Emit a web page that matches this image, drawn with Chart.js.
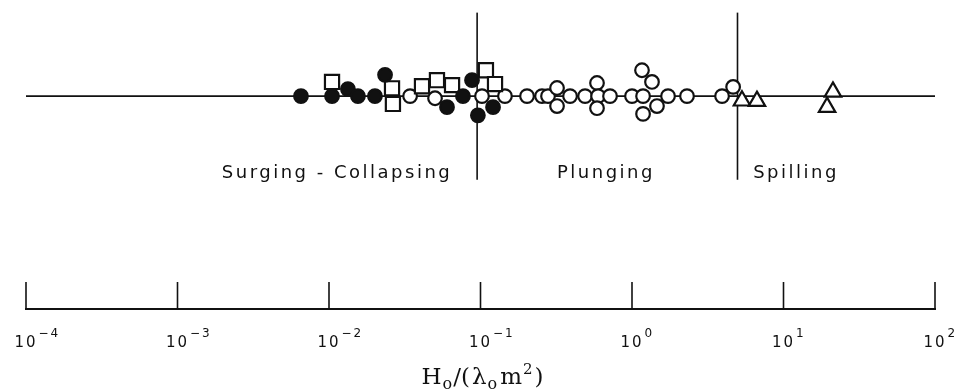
<!DOCTYPE html>
<html>
<head>
<meta charset="utf-8">
<script src="https://cdn.jsdelivr.net/npm/chart.js@4/dist/chart.umd.min.js"></script>
<style>
  html, body { margin: 0; padding: 0; background: #fff; }
  canvas { display: block; }
</style>
</head>
<body>
<canvas id="chart" width="962" height="391"></canvas>
<script>
// Breaker parameter H0/(L0 m^2) for each test, by symbol type.
// "lift" is only a vertical nudge that keeps coincident symbols apart.
const filledCircleX    = [0.00653, 0.01047, 0.01333, 0.01552, 0.0201, 0.02344, 0.0601, 0.0766, 0.0879, 0.0961, 0.121];
const filledCircleLift = [0, 0, 1.0, 0, 0, 3.0, -1.55, 0, 2.25, -2.7, -1.55];

const squareX    = [0.01047, 0.02606, 0.02642, 0.0411, 0.0516, 0.0649, 0.1086, 0.1247];
const squareLift = [2.0, 1.1, -1.1, 1.4, 2.25, 1.55, 3.65, 1.7];

const openCircleX    = [0.0343, 0.0501, 0.1023, 0.145, 0.2028, 0.2547, 0.279, 0.320, 0.320, 0.390, 0.490,
                        0.5875, 0.597, 0.5875, 0.716, 1.0, 1.164, 1.355, 1.183, 1.462, 1.183, 1.729, 2.307, 3.93, 4.65];
const openCircleLift = [0, -0.3, 0, 0, 0, 0, 0, 1.15, -1.4, 0, 0,
                        1.85, 0, -1.7, 0, 0, 3.65, 2.0, 0, -1.4, -2.5, 0, 0, 0, 1.3];

const triangleX    = [5.32, 6.68, 21.2, 19.4];
const triangleLift = [-0.65, -0.7, 0.6, -1.55];

// Breaker-type boundaries and region names
const boundaries  = [0.095, 4.97];
const regionNames = ['Surging - Collapsing', 'Plunging', 'Spilling'];

// Axis decades and their exponent labels
const tickValues    = [1e-4, 1e-3, 1e-2, 1e-1, 1e0, 1e1, 1e2];
const tickExponents = ['\u22124', '\u22123', '\u22122', '\u22121', '0', '1', '2'];

const pts = (xs, lifts) => xs.map((x, i) => ({ x, y: lifts[i] }));

const INK = '#111';

// Tick marks standing on the axis, decade labels, region names and the axis title
const decor = {
  id: 'decor',
  afterDraw(chart, args, opts) {
    const { ctx, chartArea } = chart;
    const xs = chart.scales.x, ys = chart.scales.y;
    ctx.save();
    ctx.strokeStyle = INK;
    ctx.fillStyle = INK;
    ctx.lineWidth = 1.6;

    // upright tick marks
    xs.ticks.forEach(t => {
      const px = xs.getPixelForValue(t.value);
      ctx.beginPath();
      ctx.moveTo(px, chartArea.bottom);
      ctx.lineTo(px, chartArea.bottom - opts.tickLength);
      ctx.stroke();
    });

    // decade labels 10^n
    ctx.textBaseline = 'alphabetic';
    xs.ticks.forEach((t, i) => {
      const px = xs.getPixelForValue(t.value);
      ctx.font = '15px "DejaVu Sans"';
      ctx.letterSpacing = '2px';
      const w = ctx.measureText('10').width;
      ctx.textAlign = 'left';
      ctx.fillText('10', px - w / 2, chartArea.bottom + 38);
      ctx.font = '12px "DejaVu Sans"';
      ctx.letterSpacing = '2px';
      ctx.fillText(tickExponents[i], px + w / 2 + 1, chartArea.bottom + 28);
    });

    // region names
    ctx.font = '18px "DejaVu Sans"';
    ctx.letterSpacing = '2.5px';
    ctx.textAlign = 'center';
    regionNames.forEach((name, i) => {
      ctx.fillText(name, xs.getPixelForValue(opts.regionCentres[i]), ys.getPixelForValue(opts.regionLift));
    });

    // axis title H_o/(λ_o m^2)
    ctx.letterSpacing = '0px';
    ctx.textAlign = 'left';
    const big = '23px "DejaVu Serif"', sub = '16px "DejaVu Serif"', sup = '15px "DejaVu Serif"';
    const runs = [
      { t: 'H', f: big, dy: 0, gap: 1 },
      { t: 'o', f: sub, dy: 5, gap: 1 },
      { t: '/(', f: big, dy: 0, gap: 2 },
      { t: '\u03bb', f: big, dy: 0, gap: 1 },
      { t: 'o', f: sub, dy: 5, gap: 3 },
      { t: 'm', f: big, dy: 0, gap: 1 },
      { t: '2', f: sup, dy: -10, gap: 2 },
      { t: ')', f: big, dy: 0, gap: 0 }
    ];
    let total = 0;
    runs.forEach(r => { ctx.font = r.f; r.w = ctx.measureText(r.t).width + r.gap; total += r.w; });
    let cx = (chartArea.left + chartArea.right) / 2 - total / 2 + 2;
    const base = chartArea.bottom + 75;
    runs.forEach(r => { ctx.font = r.f; ctx.fillText(r.t, cx, base + r.dy); cx += r.w; });

    ctx.restore();
  }
};

const markerBase = {
  type: 'scatter',
  borderColor: INK,
  borderWidth: 2.2,
  pointHoverRadius: 7
};

new Chart(document.getElementById('chart'), {
  data: {
    datasets: [
      { ...markerBase, label: 'filled circles', data: pts(filledCircleX, filledCircleLift),
        pointStyle: 'circle', radius: 6.8, backgroundColor: INK, order: 1 },
      { ...markerBase, label: 'squares', data: pts(squareX, squareLift),
        pointStyle: 'rect', radius: 10, backgroundColor: '#fff', order: 2 },
      { ...markerBase, label: 'open circles', data: pts(openCircleX, openCircleLift),
        pointStyle: 'circle', radius: 6.8, backgroundColor: '#fff', order: 3 },
      { ...markerBase, label: 'triangles', data: pts(triangleX, triangleLift),
        pointStyle: 'triangle', radius: 9.5, backgroundColor: '#fff', order: 4 },
      // reference line through the data
      { type: 'line', label: 'axis line', data: [{ x: tickValues[0], y: 0 }, { x: tickValues[tickValues.length - 1], y: 0 }],
        borderColor: INK, borderWidth: 1.7, pointRadius: 0, order: 10 },
      // breaker-type boundaries
      ...boundaries.map(b => ({
        type: 'line', label: 'boundary', data: [{ x: b, y: -11.8 }, { x: b, y: 11.8 }],
        borderColor: INK, borderWidth: 1.6, pointRadius: 0, order: 10
      }))
    ]
  },
  options: {
    responsive: false,
    animation: false,
    events: [],
    layout: { padding: { left: 26, right: 27, top: 0, bottom: 0 } },
    plugins: {
      legend: { display: false },
      tooltip: { enabled: false },
      decor: { tickLength: 27, regionCentres: [0.0113, 0.673, 12.1], regionLift: -11.55 }
    },
    scales: {
      x: {
        type: 'logarithmic',
        min: tickValues[0],
        max: tickValues[tickValues.length - 1],
        afterBuildTicks: s => { s.ticks = tickValues.map(v => ({ value: v })); },
        afterFit: s => { s.height = 82; s.paddingLeft = 0; s.paddingRight = 0; },
        ticks: { display: false },
        grid: { display: true, drawOnChartArea: false, drawTicks: false },
        border: { display: true, color: INK, width: 2 }
      },
      y: {
        type: 'linear',
        display: false,
        min: -30,
        max: 11.83
      }
    }
  },
  plugins: [decor]
});
</script>
</body>
</html>
